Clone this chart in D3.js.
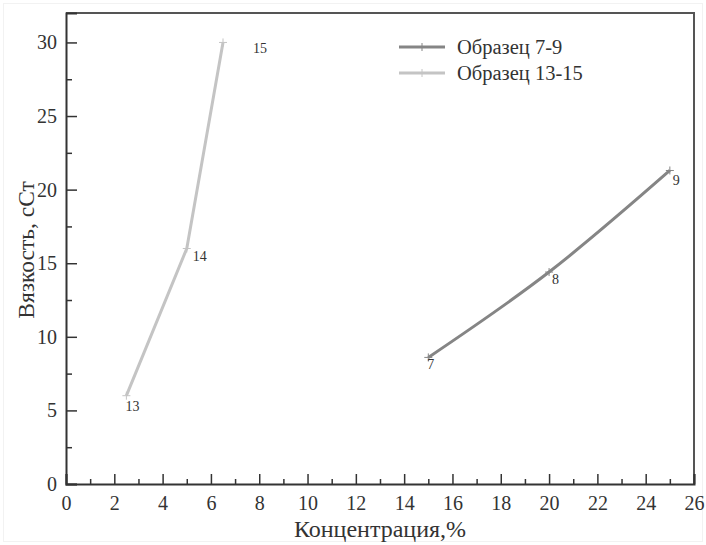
<!DOCTYPE html>
<html>
<head>
<meta charset="utf-8">
<script src="https://cdn.jsdelivr.net/npm/d3@7"></script>
<style>
  body { margin: 0; background: #fff; }
</style>
</head>
<body>
<div id="chart"></div>
<script>
// Образец 7-9
var conc79 = [15, 20, 25],
    visc79 = [8.6, 14.4, 21.3],
    lab79 = ["7", "8", "9"];
// Образец 13-15
var conc1315 = [2.5, 5, 6.5],
    visc1315 = [6, 16, 30],
    lab1315 = ["13", "14", "15"];

var seriesNames = ["Образец 7-9", "Образец 13-15"];
var xTicks = d3.range(0, 27, 2),
    yTicks = d3.range(0, 31, 5);

var FONT = "'Liberation Serif', 'Times New Roman', 'DejaVu Serif', serif";

var W = 706, H = 545;
var margin = {top: 13, right: 12, bottom: 61, left: 66},
    width = W - margin.left - margin.right,
    height = H - margin.top - margin.bottom;

var svg = d3.select("#chart")
  .append("svg")
  .attr("width", W)
  .attr("height", H)
  .style("font-family", FONT);

svg.append("rect")
  .attr("x", 3.5).attr("y", 3.5)
  .attr("width", W - 7).attr("height", H - 7)
  .attr("fill", "none")
  .attr("stroke", "#f2f2f2");

var g = svg.append("g")
  .attr("transform", "translate(" + margin.left + "," + margin.top + ")");

var x = d3.scaleLinear().domain([0, 26]).range([0, width]);
var y = d3.scaleLinear().domain([0, 32]).range([height, 0]);

// frame (top / right)
g.append("path")
  .attr("d", "M0,0H" + width + "V" + height)
  .attr("fill", "none")
  .attr("stroke", "#555")
  .attr("stroke-width", 2);

// x axis, ticks inward
g.append("g")
  .attr("transform", "translate(0," + height + ")")
  .call(d3.axisBottom(x).tickValues(xTicks).tickSize(-10).tickPadding(12).tickFormat(d3.format("d")));
g.append("g")
  .attr("transform", "translate(0," + height + ")")
  .call(d3.axisBottom(x).tickValues(d3.range(1, 26, 2)).tickSize(-5).tickFormat(""))
  .select(".domain").remove();

g.append("g")
  .call(d3.axisLeft(y).tickValues(yTicks).tickSize(-11).tickPadding(9).tickFormat(d3.format("d")));
g.append("g")
  .call(d3.axisLeft(y).tickValues(d3.range(2.5, 30, 5)).tickSize(-6).tickFormat(""))
  .select(".domain").remove();

g.selectAll(".domain").attr("stroke", "#333").attr("stroke-width", 2);
g.selectAll(".tick line").attr("stroke", "#333").attr("stroke-width", 1.5);
g.selectAll(".tick text")
  .attr("fill", "#333")
  .style("font-family", FONT)
  .style("font-size", "20px");

// axis titles
svg.append("text")
  .attr("x", 380).attr("y", 537)
  .attr("text-anchor", "middle")
  .attr("fill", "#333")
  .style("font-size", "24px")
  .text("Концентрация,%");

svg.append("text")
  .attr("transform", "translate(34,250) rotate(-90)")
  .attr("text-anchor", "middle")
  .attr("fill", "#333")
  .style("font-size", "23.5px")
  .text("Вязкость, сСт");

var data79 = conc79.map(function(c, i) { return {x: c, y: visc79[i], l: lab79[i]}; });
var data1315 = conc1315.map(function(c, i) { return {x: c, y: visc1315[i], l: lab1315[i]}; });

var colors = ["#858585", "#c4c4c4"];

function drawSeries(data, color, curve, offs) {
  g.append("path")
    .datum(data)
    .attr("fill", "none")
    .attr("stroke", color)
    .attr("stroke-width", 3)
    .attr("d", d3.line().curve(curve)
      .x(function(d) { return x(d.x); })
      .y(function(d) { return y(d.y); }));

  g.append("g").selectAll("path")
    .data(data)
    .enter()
    .append("path")
    .attr("transform", function(d) { return "translate(" + x(d.x) + "," + y(d.y) + ")"; })
    .attr("d", "M-4,0H4M0,-4V4")
    .attr("stroke", color)
    .attr("stroke-width", 1);

  g.append("g").selectAll("text")
    .data(data)
    .enter()
    .append("text")
    .attr("x", function(d, i) { return x(d.x) + offs[i][0]; })
    .attr("y", function(d, i) { return y(d.y) + offs[i][1]; })
    .attr("fill", "#333")
    .style("font-size", "14px")
    .text(function(d) { return d.l; });
}

drawSeries(data79, colors[0], d3.curveMonotoneX, [[-1, 12], [3, 12], [3, 15]]);
drawSeries(data1315, colors[1], d3.curveLinear, [[-1, 15], [6, 12], [30, 11]]);

// legend
var legend = svg.append("g");
seriesNames.forEach(function(name, i) {
  var ly = 47 + i * 26;
  legend.append("line")
    .attr("x1", 399).attr("x2", 445)
    .attr("y1", ly).attr("y2", ly)
    .attr("stroke", colors[i])
    .attr("stroke-width", 3);
  legend.append("path")
    .attr("transform", "translate(422," + ly + ")")
    .attr("d", "M0,-4V4")
    .attr("stroke", colors[i]);
  legend.append("text")
    .attr("x", 457).attr("y", ly + 7)
    .attr("fill", "#333")
    .style("font-size", "20.5px")
    .text(name);
});
</script>
</body>
</html>
